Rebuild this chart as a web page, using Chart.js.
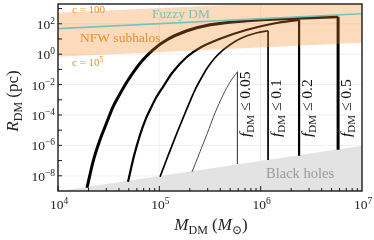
<!DOCTYPE html>
<html>
<head>
<meta charset="utf-8">
<script src="https://cdn.jsdelivr.net/npm/chart.js@4.4.0/dist/chart.umd.min.js"></script>
<style>
  html, body { margin: 0; padding: 0; background: #fff; }
  #wrap { width: 374px; height: 240px; }
</style>
</head>
<body>
<div id="wrap"><canvas id="chart" width="374" height="240"></canvas></div>
<script>
// --- values (M in solar masses, R in pc)
const fractions = ['0.05', '0.1', '0.2', '0.5'];

const f05M = [2.10e5, 2.52e5, 2.96e5, 3.55e5, 4.26e5, 4.99e5, 5.9e5];
const f05R = [1.8e-8, 3.8e-7, 5.8e-6, 1.4e-4, 2.1e-3, 0.015, 0.069];
const f05Floor = 6.2e-8;

const f10M = [1.016e5, 1.219e5, 1.495e5, 1.835e5, 2.251e5, 2.639e5, 3.026e5, 3.548e5,
  4.159e5, 4.989e5, 5.984e5, 7.34e5, 9.215e5, 1.183e6];
const f10R = [8.6e-9, 2.07e-7, 6.75e-6, 1.89e-4, 4.55e-3, 0.0326, 0.148, 0.579,
  1.67, 4.15, 8.86, 16.2, 25.6, 34.6];
const f10Floor = 1.1e-7;

const f20M = [4.909e4, 5.627e4, 6.449e4, 7.224e4, 8.092e4, 9.277e4, 1.088e5, 1.365e5,
  1.877e5, 2.522e5, 3.973e5, 7.34e5, 1.387e6, 2.394e6];
const f20R = [4.03e-9, 2.07e-7, 4.98e-6, 4.15e-5, 2.2e-4, 1.35e-3, 7.17e-3, 0.0695,
  0.675, 2.64, 10.3, 40.3, 108, 183];
const f20Floor = 2.1e-7;

const f50M = [1.933e4, 2.216e4, 2.598e4, 3.046e4, 3.491e4, 4.093e4, 4.799e4, 5.756e4,
  6.905e4, 8.667e4, 1.191e5, 1.877e5, 3.166e5, 7.34e5, 2.34e6, 5.808e6];
const f50R = [1.63e-9, 8.3e-8, 2.33e-6, 3.57e-5, 3.46e-4, 2.48e-3, 0.0153, 0.0942,
  0.428, 1.95, 8.86, 34.6, 85.9, 157, 230, 289];
const f50Floor = 5.1e-7;

// NFW subhalo band (c = 100 upper edge, c = 1e5 lower edge)
const nfwM = [1e4, 1e7];
const nfwUpperR = [525, 4470];
const nfwLowerR = [0.68, 5.75];

// fuzzy DM line
const fuzzyM = [1e4, 1e7];
const fuzzyR = [47.9, 457];

// black hole (Schwarzschild radius) boundary
const bhM = [1e4, 1e7];
const bhR = [9.6e-10, 9.6e-7];

// tick labels (powers of ten)
const xTickExps = [4, 5, 6, 7];
const yTickExps = [-8, -6, -4, -2, 0, 2];

const SERIF = '"Liberation Serif", "DejaVu Serif", serif';
const ORANGE = '#f28b30';
const TEAL = '#6fc6c0';

const pts = (ms, rs) => ms.map((m, i) => ({ x: m, y: rs[i] }));

const curves = [
  { m: f05M, r: f05R, floor: f05Floor, w: 1.0, c: '#4a4a4a' },
  { m: f10M, r: f10R, floor: f10Floor, w: 1.7, c: '#000' },
  { m: f20M, r: f20R, floor: f20Floor, w: 2.2, c: '#000' },
  { m: f50M, r: f50R, floor: f50Floor, w: 3.0, c: '#000' }
];

const datasets = [
  { data: pts(fuzzyM, fuzzyR), borderColor: TEAL, borderWidth: 1.7, fill: false, order: 0 },
  { data: pts(nfwM, nfwUpperR), borderColor: 'transparent', borderWidth: 0, fill: '+1',
    backgroundColor: 'rgba(245,135,38,0.3)', order: 1 },
  { data: pts(nfwM, nfwLowerR), borderColor: 'transparent', borderWidth: 0, fill: false, order: 1 },
  { data: pts(bhM, bhR), borderColor: 'transparent', borderWidth: 0, fill: 'start',
    backgroundColor: '#e3e3e3', order: 3 }
];
curves.forEach(cv => {
  const n = cv.m.length - 1;
  datasets.push({ data: pts(cv.m, cv.r), borderColor: cv.c, borderWidth: cv.w,
    cubicInterpolationMode: 'monotone', fill: false, order: 2 });
  datasets.push({ data: [{ x: cv.m[n], y: cv.r[n] }, { x: cv.m[n], y: cv.floor }],
    borderColor: cv.c, borderWidth: cv.w, fill: false, order: 2 });
});

// draw a run of text pieces: [text, font, dy]
function drawParts(ctx, parts, x, y, align) {
  let w = 0;
  parts.forEach(p => { ctx.font = p[1]; w += ctx.measureText(p[0]).width; });
  let cx = align === 'center' ? x - w / 2 : align === 'right' ? x - w : x;
  parts.forEach(p => {
    ctx.font = p[1];
    ctx.fillText(p[0], cx, y + (p[2] || 0));
    cx += ctx.measureText(p[0]).width;
  });
  return w;
}

function seg(ctx, x1, y1, x2, y2) {
  ctx.beginPath(); ctx.moveTo(x1, y1); ctx.lineTo(x2, y2); ctx.stroke();
}

const decor = {
  id: 'decor',
  beforeDatasetsDraw(chart) {
    const { ctx, chartArea: a, scales: { x, y } } = chart;
    ctx.save();
    ctx.strokeStyle = '#ececec';
    ctx.lineWidth = 0.8;
    xTickExps.forEach(e => {
      const px = x.getPixelForValue(10 ** e);
      if (px > a.left + 1 && px < a.right - 1) seg(ctx, px, a.top, px, a.bottom);
    });
    yTickExps.forEach(e => {
      const py = y.getPixelForValue(10 ** e);
      seg(ctx, a.left, py, a.right, py);
    });
    ctx.restore();
  },
  afterDraw(chart) {
    const { ctx, chartArea: a, scales: { x, y } } = chart;
    ctx.save();

    // frame
    ctx.strokeStyle = '#1a1a1a';
    ctx.lineWidth = 1.4;
    ctx.strokeRect(a.left, a.top, a.right - a.left, a.bottom - a.top);

    // x ticks (inside)
    ctx.lineWidth = 1;
    for (let e = 4; e < 7; e++) {
      for (let k = 1; k <= 9; k++) {
        const px = x.getPixelForValue(k * 10 ** e);
        const len = k === 1 ? 5 : 3;
        seg(ctx, px, a.bottom, px, a.bottom - len);
      }
    }
    // y ticks (inside)
    for (let e = -8; e <= 3; e++) {
      const py = y.getPixelForValue(10 ** e);
      if (py < a.top + 1) continue;
      seg(ctx, a.left, py, a.left + 4, py);
    }

    // tick labels
    ctx.fillStyle = '#222';
    ctx.textBaseline = 'alphabetic';
    ctx.textAlign = 'left';
    const big = '13.5px ' + SERIF, small = '9.5px ' + SERIF;
    xTickExps.forEach(e => {
      const px = x.getPixelForValue(10 ** e);
      drawParts(ctx, [['10', big, 0], [String(e), small, -5]], px + 1, a.bottom + 18, 'center');
    });
    yTickExps.forEach(e => {
      const py = y.getPixelForValue(10 ** e);
      const ex = e < 0 ? '\u2212' + Math.abs(e) : String(e);
      drawParts(ctx, [['10', big, 0], [ex, small, -5]], a.left - 3, py + 5, 'right');
    });

    // axis titles
    const t = '17px ' + SERIF, ti = 'italic 17px ' + SERIF, ts = '12px ' + SERIF;
    drawParts(ctx, [['M', ti, 0], ['DM', ts, 3.5], [' (', t, 0], ['M', ti, 0], ['\u2299', ts, 3.5], [')', t, 0]],
      (a.left + a.right) / 2 + 1, 230, 'center');
    ctx.save();
    ctx.translate(18, 101);
    ctx.rotate(-Math.PI / 2);
    drawParts(ctx, [['R', ti, 0], ['DM', ts, 3.5], [' (pc)', t, 0]], 0, 0, 'center');
    ctx.restore();

    // band and line annotations
    ctx.fillStyle = TEAL;
    drawParts(ctx, [['Fuzzy DM', '13.5px ' + SERIF, 0]], 152, 17.5, 'left');
    ctx.fillStyle = ORANGE;
    drawParts(ctx, [['NFW subhalos', '13.5px ' + SERIF, 0]], 80, 42, 'left');
    drawParts(ctx, [['c = 100', '11px ' + SERIF, 0]], 72, 13, 'left');
    drawParts(ctx, [['c = 10', '11px ' + SERIF, 0], ['5', '7.5px ' + SERIF, -4.5]], 72, 66, 'left');
    ctx.fillStyle = '#9a9a9a';
    drawParts(ctx, [['Black holes', '14.5px ' + SERIF, 0]], 266, 178, 'left');

    // fraction labels beside each cut-off line
    ctx.fillStyle = '#111';
    curves.forEach((cv, i) => {
      const px = x.getPixelForValue(cv.m[cv.m.length - 1]);
      ctx.save();
      ctx.translate(px + 13, 137);
      ctx.rotate(-Math.PI / 2);
      drawParts(ctx, [['f', 'italic 15.5px ' + SERIF, 0], ['DM', '11px ' + SERIF, 3.5],
        [' \u2264 ' + fractions[i], '15.5px ' + SERIF, 0]], 0, 0, 'left');
      ctx.restore();
    });

    ctx.restore();
  }
};

new Chart(document.getElementById('chart'), {
  type: 'line',
  data: { datasets },
  options: {
    responsive: false,
    animation: false,
    layout: { padding: { left: 58, right: 12, top: 4, bottom: 49 } },
    plugins: { legend: { display: false }, tooltip: { enabled: false } },
    elements: { point: { radius: 0 } },
    scales: {
      x: { type: 'logarithmic', min: 1e4, max: 1e7, display: false },
      y: { type: 'logarithmic', min: 1e-9, max: 2e3, display: false }
    }
  },
  plugins: [decor]
});
</script>
</body>
</html>
